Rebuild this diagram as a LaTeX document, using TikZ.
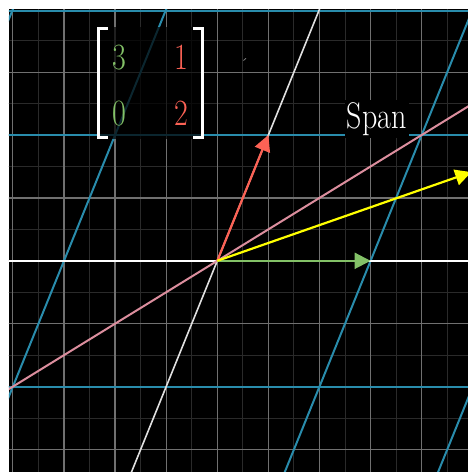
\documentclass[tikz,border=0pt]{standalone}
\usetikzlibrary{arrows.meta}
\definecolor{tblue}{RGB}{41,140,172}
\definecolor{tpink}{RGB}{220,142,158}
\definecolor{tred}{RGB}{252,98,85}
\definecolor{tgreen}{RGB}{131,193,103}
\definecolor{tyellow}{RGB}{255,255,0}
\definecolor{gmajor}{RGB}{112,112,112}
\definecolor{gminor}{RGB}{42,42,42}
\begin{document}
\begin{tikzpicture}[x=51.1pt,y=62.9pt,
  gridmajor/.style={draw=gmajor,line width=1.2pt},
  gridminor/.style={draw=gminor,line width=0.9pt},
  tline/.style={draw=tblue,line width=2pt},
  axisline/.style={draw=white,line width=2.2pt},
  slantaxis/.style={draw=white!88!black,line width=1.6pt},
  spanline/.style={draw=tpink,line width=2pt},
  vec/.style={line width=2.2pt,-{Triangle[length=16pt,width=16pt]}},
  entry/.style={inner sep=0pt,font=\fontsize{30}{30}\selectfont},
  bracket/.style={draw=white,line width=3pt,miter limit=10},
]
\useasboundingbox (-4.2524,-3.3577) rectangle (4.9061,4.1463);
\fill[white] (-4.2524,-3.3577) rectangle (4.9061,4.1463);
\fill[black] (-4.0763,-3.3577) rectangle (4.9061,3.997);
\begin{scope}
\clip (-4.0763,-3.3577) rectangle (4.9061,3.997);
% background grid
\foreach \x in {-4.5,-3.5,...,4.5} \draw[gridminor] (\x,-3.5) -- (\x,4.2);
\foreach \y in {-3.5,-2.5,...,3.5} \draw[gridminor] (-4.5,\y) -- (5,\y);
\foreach \x in {-4,...,4} \draw[gridmajor] (\x,-3.5) -- (\x,4.2);
\foreach \y in {-3,...,3} \draw[gridmajor] (-4.5,\y) -- (5,\y);
% transformed grid
\foreach \y in {-2,2,3.978} \draw[tline] (-4.5,\y) -- (5,\y);
\foreach \k in {-2,-1,1,2} \draw[tline] ({3*\k-2},-4) -- ({3*\k+2.5},5);
% transformed axes
\draw[axisline] (-4.5,0) -- (5,0);
\draw[slantaxis] (-2,-4) -- (2.5,5);
% span line
\draw[spanline] (-4.5,-2.25) -- (5,2.5);
% vectors
\coordinate (O) at (0,0);
\coordinate (I) at (3,0);
\coordinate (J) at (1,2);
\coordinate (Y) at (4.97,1.41);
\draw[vec,tgreen] (O) -- (I);
\draw[vec,tred] (O) -- (J);
\draw[vec,tyellow] (O) -- (Y);
\end{scope}
% overlays in pixel coordinates
\begin{scope}[shift={(-217.3pt,260.8pt)},x=1pt,y=-1pt]
\fill[black,opacity=0.72] (97,27) rectangle (204,139);
\draw[bracket] (108,28.5) -- (98.5,28.5) -- (98.5,137.5) -- (108,137.5);
\draw[bracket] (193,28.5) -- (202.5,28.5) -- (202.5,137.5) -- (193,137.5);
\node[entry,text=tgreen] (m11) at (119,57.5) {\scalebox{1}[1.235]{3}};
\node[entry,text=tred] (m12) at (181,57.5) {\scalebox{1}[1.235]{1}};
\node[entry,text=tgreen] (m21) at (119,113.5) {\scalebox{1}[1.235]{0}};
\node[entry,text=tred] (m22) at (181.5,113.5) {\scalebox{1}[1.235]{2}};
\draw[gray,line width=0.8pt] (243.5,60.5) -- (246,58.3);
\node[fill=black,inner sep=2pt,anchor=base,text=white,font=\fontsize{30}{30}\selectfont] (span) at (376.7,128.3) {\scalebox{1}[1.235]{Span}};
\end{scope}
\end{tikzpicture}
\end{document}
